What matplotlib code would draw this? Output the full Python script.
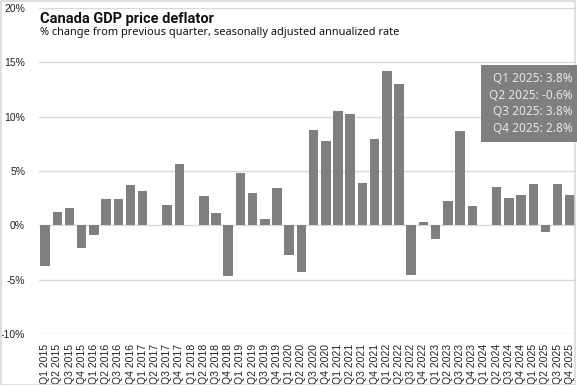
import matplotlib
matplotlib.use("Agg")
import matplotlib.pyplot as plt
from matplotlib.patches import Rectangle

# quarters Q1 2015 .. Q4 2025
years = list(range(2015, 2026))
quarters = [f"Q{q} {y}" for y in years for q in range(1, 5)]

# % change from previous quarter, SAAR
values = [
    -3.7, 1.2, 1.6, -2.1,    # 2015
    -0.9, 2.4, 2.4, 3.7,     # 2016
    3.2, 0.0, 1.9, 5.6,      # 2017
    0.0, 2.7, 1.1, -4.7,     # 2018
    4.8, 3.0, 0.6, 3.4,      # 2019
    -2.7, -4.3, 8.8, 7.8,    # 2020
    10.5, 10.2, 3.9, 7.9,    # 2021
    14.2, 13.0, -4.6, 0.3,   # 2022
    -1.3, 2.2, 8.7, 1.8,     # 2023
    0.0, 3.5, 2.5, 2.8,      # 2024
    3.8, -0.6, 3.8, 2.8,     # 2025
]

y_ticks = [-10, -5, 0, 5, 10, 15, 20]
y_tick_labels = ["-10%", "-5%", "0%", "5%", "10%", "15%", "20%"]

title = "Canada GDP price deflator"
subtitle = "% change from previous quarter, seasonally adjusted annualized rate"

W, H = 577, 385
fig = plt.figure(figsize=(W / 100, H / 100), dpi=100)
ax = fig.add_axes([39 / W, 1 - 334 / H, (576 - 39) / W, (334 - 8) / H])

x = list(range(len(quarters)))
ax.bar(x, values, width=0.78, color="#7f7f7f", zorder=2)

ax.set_xlim(-0.5, len(quarters) - 0.5)
ax.set_ylim(-10, 20)
ax.set_yticks(y_ticks)
ax.set_yticklabels(y_tick_labels, fontsize=7.5, family="Liberation Sans", color="#222222")
ax.set_xticks(x)
ax.set_xticklabels(quarters, rotation=90, fontsize=7.5, family="Liberation Sans", color="#222222")
ax.tick_params(axis="both", length=0)
ax.tick_params(axis="y", pad=10)
ax.tick_params(axis="x", pad=7)
ax.grid(axis="y", color="#d9d9d9", linewidth=1, zorder=0)
for s in ax.spines.values():
    s.set_visible(False)

# title block
fig.text(40 / W, 1 - 19 / H, title, fontsize=10.5, fontweight="bold",
         family="Roboto", va="center", ha="left", color="#111111")
fig.text(40 / W, 1 - 33 / H, subtitle, fontsize=7.95,
         family="Noto Sans", va="center", ha="left", color="#111111")

# latest values box
box_text = "\n".join(f"{quarters[i]}: {values[i]:.1f}%" for i in range(40, 44))
fig.patches.append(Rectangle((481 / W, 1 - 142 / H), 96 / W, 77 / H,
                             transform=fig.transFigure, facecolor="#7f7f7f",
                             edgecolor="none", zorder=5))
fig.text(573 / W, 1 - 103.5 / H, box_text, fontsize=8.5, family="Noto Sans",
         color="#e8e8e8", ha="right", va="center", linespacing=1.35, zorder=6)

# light frame round the figure
fig.patches.append(Rectangle((0.5 / W, 0.5 / H), (W - 3) / W, (H - 1) / H,
                             transform=fig.transFigure, fill=False,
                             edgecolor="#d9d9d9", linewidth=1.2))

fig.savefig("out.png", dpi=100)
